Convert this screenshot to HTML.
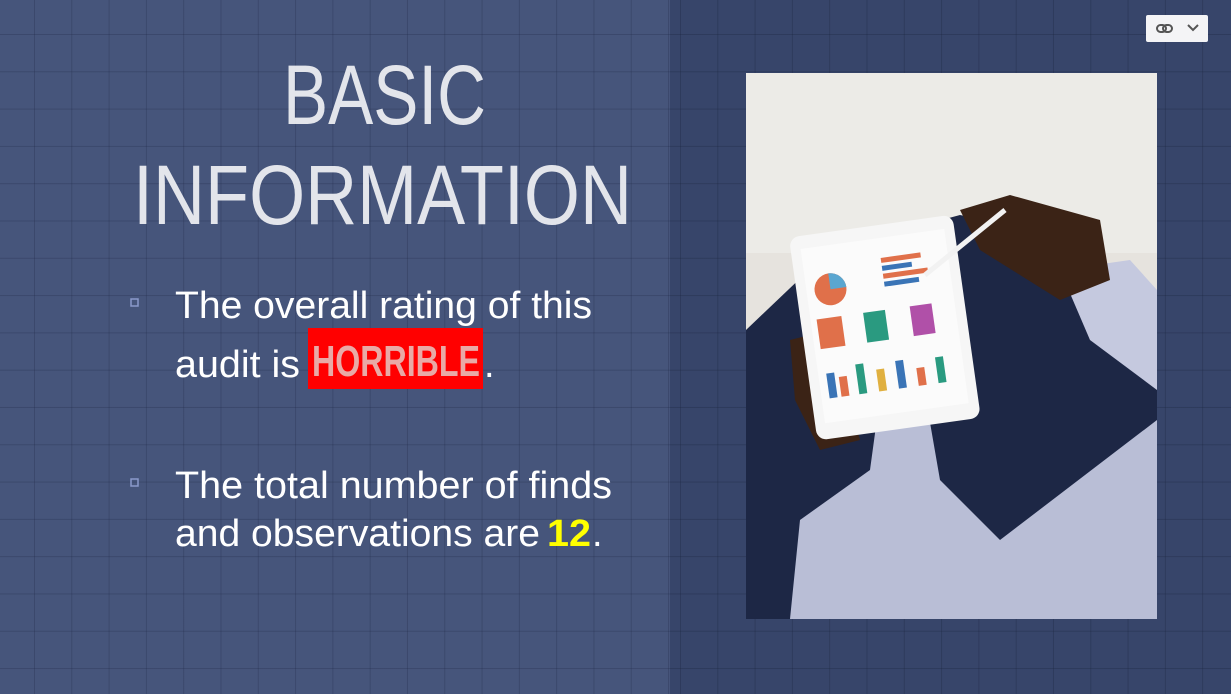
<!DOCTYPE html>
<html><head><meta charset="utf-8"><style>
html,body{margin:0;padding:0}
body{width:1231px;height:694px;overflow:hidden;position:relative;font-family:"Liberation Sans",sans-serif;
background-color:#46557b;
background-image:linear-gradient(to right,rgba(30,40,70,.28) 1px,transparent 1px),linear-gradient(to bottom,rgba(30,40,70,.28) 1px,transparent 1px);
background-size:37.3px 37.3px;background-position:34px 34px;}
#right{position:absolute;left:670px;top:0;width:561px;height:694px;background-color:#37456a;
background-image:linear-gradient(to right,rgba(25,35,60,.3) 1px,transparent 1px),linear-gradient(to bottom,rgba(25,35,60,.3) 1px,transparent 1px);
background-size:37.3px 37.3px;background-position:10px 34px;}
svg{position:absolute;left:0;top:0}
#btn{position:absolute;left:1146px;top:15px;width:62px;height:27px;background:#f4f4f6;border-radius:2px}
</style></head><body>
<div id="right"></div>
<svg width="1231" height="694">
<g fill="#fff" font-family="Liberation Sans, sans-serif">
<text x="283" y="124" font-size="84" fill-opacity="0.85" textLength="203" lengthAdjust="spacingAndGlyphs">BASIC</text>
<text x="133" y="224" font-size="84" fill-opacity="0.85" textLength="499" lengthAdjust="spacingAndGlyphs">INFORMATION</text>
<rect x="131" y="299" width="7" height="7" fill="none" stroke="#8a9acb" stroke-width="1.5"/>
<rect x="131" y="479" width="7" height="7" fill="none" stroke="#8a9acb" stroke-width="1.5"/>
<text x="175" y="318" font-size="38" textLength="417" lengthAdjust="spacingAndGlyphs">The overall rating of this</text>
<text x="175" y="377" font-size="38" textLength="125" lengthAdjust="spacingAndGlyphs">audit is</text>
<rect x="308" y="328" width="175" height="61" fill="#ff0000"/>
<text x="312" y="376" font-size="44" font-weight="bold" fill="#e9aaa6" textLength="168" lengthAdjust="spacingAndGlyphs">HORRIBLE</text>
<text x="484" y="377" font-size="38">.</text>
<text x="175" y="498" font-size="38" textLength="437" lengthAdjust="spacingAndGlyphs">The total number of finds</text>
<text x="175" y="546" font-size="38" textLength="365" lengthAdjust="spacingAndGlyphs">and observations are</text>
<text x="547" y="546" font-size="38" font-weight="bold" fill="#ffff00" textLength="44" lengthAdjust="spacingAndGlyphs">12</text>
<text x="592" y="546" font-size="38">.</text>
</g>
<g>
<rect x="746" y="73" width="411" height="546" fill="#e6e3de"/>
<rect x="746" y="73" width="411" height="180" fill="#ecebe7"/>
<path d="M746 330 L830 250 L960 215 L1080 240 L1157 320 L1157 619 L746 619 Z" fill="#1d2745"/>
<path d="M900 250 L940 480 L1000 540 L1157 420 L1157 619 L790 619 L800 520 L870 470 Z" fill="#b9bed6"/>
<path d="M1060 270 L1130 260 L1157 290 L1157 390 L1090 340 Z" fill="#c5c9df"/>
<path d="M960 210 L1010 195 L1100 220 L1110 280 L1060 300 L980 250 Z" fill="#3b2316"/>
<path d="M790 340 L830 330 L860 440 L820 450 L795 400 Z" fill="#3b2316"/>
<g transform="rotate(-8 885 325)">
<rect x="802" y="225" width="165" height="205" rx="10" fill="#f6f6f6"/>
<rect x="812" y="238" width="145" height="176" fill="#fbfbfb"/>
<circle cx="836" cy="282" r="16" fill="#e0704a"/>
<path d="M836 282 L836 266 A16 16 0 0 1 852 282 Z" fill="#5aa6d0"/>
<rect x="890" y="258" width="40" height="5" fill="#e0704a"/><rect x="890" y="266" width="30" height="5" fill="#3a74b6"/><rect x="890" y="274" width="45" height="5" fill="#e0704a"/><rect x="890" y="282" width="35" height="5" fill="#3a74b6"/>
<rect x="818" y="310" width="25" height="30" fill="#e0704a"/><rect x="865" y="310" width="22" height="30" fill="#2a9a80"/><rect x="912" y="310" width="22" height="30" fill="#b050a8"/>
<rect x="820" y="365" width="8" height="25" fill="#3a74b6"/><rect x="832" y="370" width="8" height="20" fill="#e0704a"/><rect x="850" y="360" width="8" height="30" fill="#2a9a80"/><rect x="870" y="368" width="8" height="22" fill="#e0b040"/><rect x="890" y="362" width="8" height="28" fill="#3a74b6"/><rect x="910" y="372" width="8" height="18" fill="#e0704a"/><rect x="930" y="364" width="8" height="26" fill="#2a9a80"/>
</g>
<line x1="925" y1="275" x2="1005" y2="210" stroke="#f2f2f2" stroke-width="5"/>
</g>
</svg>
<div id="btn">
<svg width="62" height="27" style="position:static"><g fill="none" stroke="#555" stroke-width="2"><rect x="11" y="10" width="9" height="7" rx="3.5"/><rect x="17" y="10" width="9" height="7" rx="3.5"/><path d="M42 10 L47 15 L52 10"/></g></svg>
</div>
</body></html>
